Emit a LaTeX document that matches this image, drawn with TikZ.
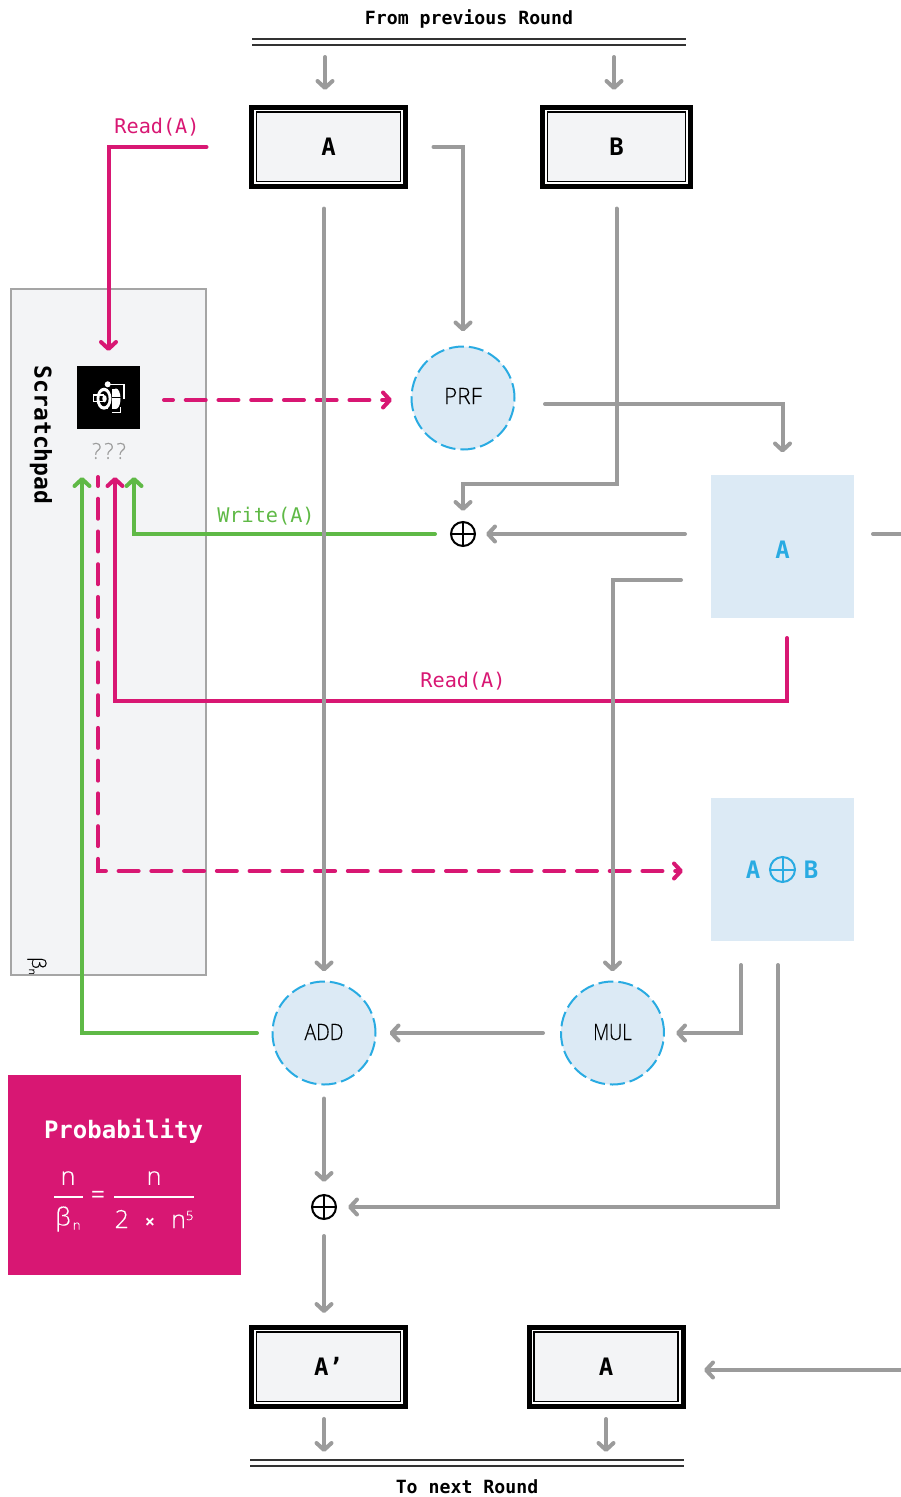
\documentclass[tikz,border=0pt]{standalone}
\usepackage{fontspec}
\usepackage{graphicx}
\setmainfont{Open Sans}
\newfontfamily\monof{DejaVu Sans Mono}
\newfontfamily\slim[FakeBold=0.4]{Open Sans Light}
\usetikzlibrary{arrows.meta,calc}
\definecolor{greyline}{HTML}{9B9B9B}
\definecolor{pinkc}{HTML}{D81773}
\definecolor{greenc}{HTML}{5FB946}
\definecolor{bluec}{HTML}{29ABE2}
\definecolor{lightblue}{HTML}{DCEAF5}
\definecolor{lightgrey}{HTML}{F3F4F6}
\definecolor{bargrey}{HTML}{333333}
\tikzset{
  x=1pt,y=-1pt,
  tipb/.tip={Straight Barb[length=7pt,width=15pt,line width=4pt,round]},
  flow/.style={line width=4pt,line cap=round,line join=miter,-{tipb}},
  greyflow/.style={flow,greyline},
  plainflow/.style={line width=4pt,line cap=round,greyline},
  pinkflow/.style={flow,pinkc},
  pinkdash/.style={flow,pinkc,dash pattern=on 20pt off 12.74pt,dash phase=11pt},
  greenflow/.style={flow,greenc},
  bar/.style={line width=2pt,bargrey},
  regouter/.style={draw=black,line width=5pt,fill=white,inner sep=0pt,outer sep=0pt},
  reginner/.style={draw=black,line width=1.6pt,fill=lightgrey,inner sep=0pt,outer sep=0pt,font=\monof\bfseries\fontsize{24}{24}\selectfont},
  op/.style={circle,draw=bluec,fill=lightblue,line width=2pt,dash pattern=on 15pt off 5pt,minimum size=103pt,inner sep=0pt,outer sep=0pt,text=black,font=\slim\fontsize{22.5}{22}\selectfont},
  bluebox/.style={fill=lightblue,minimum size=143pt,inner sep=0pt,outer sep=0pt},
  bluetext/.style={text=bluec,inner sep=0pt,font=\monof\bfseries\fontsize{24}{24}\selectfont},
  xorsym/.style={circle,draw=#1,line width=2pt,inner sep=0pt,outer sep=0pt,
     path picture={\draw[#1,line width=2pt] (path picture bounding box.north)--(path picture bounding box.south) (path picture bounding box.west)--(path picture bounding box.east);}},
  monolabel/.style={font=\monof\fontsize{20.2}{20}\selectfont,inner sep=0pt},
  headlabel/.style={font=\monof\bfseries\fontsize{18.2}{18}\selectfont,inner sep=0pt},
  formula/.style={text=white,inner sep=0pt,font=\slim\fontsize{25}{25}\selectfont},
  fracline/.style={white,line width=1.8pt},
}
\begin{document}
\begin{tikzpicture}
\useasboundingbox (0,0) rectangle (901,1497);

% Scratchpad
\node[draw=greyline!90,line width=2pt,fill=lightgrey,minimum width=195pt,minimum height=686pt,inner sep=0pt,outer sep=0pt] (pad) at (108.5,632) {};
\node[rotate=-90,font=\monof\bfseries\fontsize{23}{23}\selectfont,inner sep=0pt] (padtitle) at (41,435) {Scratchpad};
\node[rotate=-90,font=\slim\fontsize{19}{19}\selectfont,inner sep=0pt] (padsize) at (37,966) {β\raisebox{-3pt}{\fontsize{10}{10}\selectfont n}};

% Bars and headings
\node[headlabel] (fromprev) at (469,18.5) {From previous Round};
\coordinate (barTL) at (252,39); \coordinate (barTR) at (686,39);
\coordinate (barTLb) at (252,45); \coordinate (barTRb) at (686,45);
\draw[bar] (barTL)--(barTR);
\draw[bar] (barTLb)--(barTRb);
\node[headlabel] (tonext) at (467,1486.5) {To next Round};
\coordinate (barBL) at (250,1460); \coordinate (barBR) at (684,1460);
\coordinate (barBLb) at (250,1466); \coordinate (barBRb) at (684,1466);
\draw[bar] (barBL)--(barBR);
\draw[bar] (barBLb)--(barBRb);

% Registers
\node[regouter,minimum width=154pt,minimum height=79.5pt] (boxA) at (328.5,146.8) {};
\node[reginner,minimum width=144pt,minimum height=69.5pt] (boxAi) at (328.5,146.8) {A};
\node[regouter,minimum width=148pt,minimum height=79.5pt] (boxB) at (616.5,146.8) {};
\node[reginner,minimum width=138pt,minimum height=69.5pt] (boxBi) at (616.5,146.8) {B};
\node[regouter,minimum width=154pt,minimum height=79.5pt] (boxAp) at (328.5,1366.8) {};
\node[reginner,minimum width=144pt,minimum height=69.5pt] (boxApi) at (328.5,1366.8) {A’};
\node[regouter,minimum width=154pt,minimum height=79.5pt] (boxAq) at (606,1366.8) {};
\node[reginner,minimum width=144pt,minimum height=69.5pt] (boxAqi) at (606,1366.8) {A};

% Operations
\node[op] (prf) at (463,398) {\raisebox{-6pt}[0pt][0pt]{PRF}};
\node[op] (add) at (324,1033) {\raisebox{-7pt}[0pt][0pt]{\scalebox{.86}[1]{ADD}}};
\node[op] (mul) at (612.5,1033) {\raisebox{-7pt}[0pt][0pt]{\scalebox{.82}[1]{MUL}}};
\node[xorsym=black,minimum size=24pt] (xorone) at (463,534) {};
\node[xorsym=black,minimum size=24pt] (xortwo) at (324,1207) {};

% Blue state boxes
\node[bluebox] (blueA) at (782.5,546) {};
\node[bluetext] (blueAlabel) at (782.5,550) {A};
\node[bluebox] (blueAB) at (782.5,869.5) {};
\node[xorsym=bluec,minimum size=25pt] (bluexor) at (782.5,869.5) {};
\node[bluetext] (blueAtxt) at (753,870) {A};
\node[bluetext] (blueBtxt) at (811,870) {B};

% Free ends
\coordinate (inA) at (325,57);  \coordinate (inAe) at (325,90);
\coordinate (inB) at (614,57);  \coordinate (inBe) at (614,90);
\coordinate (outA) at (324,1419); \coordinate (outAe) at (324,1452);
\coordinate (outB) at (606,1419); \coordinate (outBe) at (606,1452);
\coordinate (prfOut) at (545,404);
\coordinate (bToXor) at (617,484);
\coordinate (edgeR) at (903,534);
\coordinate (blueR) at (873,534);
\coordinate (blueMul) at (681,580);
\coordinate (abMul) at (741,965);
\coordinate (abXor) at (778,965);
\coordinate (edgeRb) at (903,1370);

% Scratch-pad ports
\node[fill=black,minimum size=63pt,inner sep=0pt,outer sep=0pt] (sbox) at (108.5,397.5) {};
\node[text=greyline,font=\slim\fontsize{22}{22}\selectfont,inner sep=0pt] (qm) at (109,451) {?\hspace{3pt}?\hspace{3pt}?};
\coordinate (portGa) at (82,477);
\coordinate (portD) at (98,477);
\coordinate (portP) at (115,477);
\coordinate (portGb) at (134,477);
\coordinate (readStart) at (206.5,147);
\coordinate (dashStart) at (164,400);
\coordinate (blueRead) at (787,638);
\coordinate (addOut) at (257,1033);
\coordinate (xorOut) at (435,534);
\coordinate (dashTurn) at (98,871);
\coordinate (dashEnd) at (683,871);
\coordinate (prfIn) at (392,400);

% Icon
\begin{scope}[white,line width=1.6pt]
  \fill (107.7,384.3) circle (3);
  \draw (110,384.3) -- (124,384.3) -- (124,399);
  \draw (112,412.3) -- (120.5,412.3) -- (120.5,407);
  \fill (104,388.5) rectangle (116,409);
  \fill (116,398.7) ellipse (4.5 and 10.2);
  \fill[black] (108,387.5) rectangle (111.5,410);
  \fill (104,398.7) ellipse (7.5 and 11);
  \fill[black] (104,398.7) ellipse (4.6 and 7.6);
  \fill[white] (104.5,398.7) ellipse (2.2 and 3.6);
  \fill[black] (112,396.6) rectangle (121,398.4);
  \draw[line width=1.5pt] (104,395.2) -- (93.3,395.2) -- (93.3,401.3) -- (104,401.3);
\end{scope}

% Coloured connectors (the grey ones run over them)
\draw[pinkflow,shorten >=15pt] (readStart) -| (sbox.north);
\draw[pinkdash] (dashStart)--(prfIn);
\draw[pinkflow] (blueRead) |- (portP |- 0,701) -- (portP);
\draw[pinkdash] (portD)--(dashTurn)--(dashEnd);
\draw[greenflow] (xorOut) -| (portGb);
\draw[greenflow] (addOut) -| (portGa);

% Grey connectors
\draw[greyflow] (inA)--(inAe);
\draw[greyflow] (inB)--(inBe);
\draw[greyflow,shorten <=28pt,shorten >=15pt] (boxA.east) -| (prf.north);
\draw[greyflow,shorten <=22pt,shorten >=11pt] (boxB.south) |- (bToXor -| xorone.north) -- (xorone.north);
\draw[greyflow,shorten <=22pt,shorten >=10pt] (add.north |- boxA.south) -- (add.north);
\draw[greyflow,shorten >=22pt] (prfOut) -| (blueA.north);
\draw[plainflow] (blueR)--(edgeR);
\draw[greyflow,shorten <=26pt,shorten >=11pt] (blueA.west |- xorone.east) -- (xorone.east);
\draw[greyflow,shorten >=10pt] (blueMul) -| (mul.north);
\draw[greyflow,shorten >=12pt] (abMul) |- (mul.east);
\draw[greyflow,shorten >=12pt] (abXor) |- (xortwo.east);
\draw[greyflow,shorten <=18pt,shorten >=14pt] (mul.west)--(add.east);
\draw[greyflow,shorten <=14pt,shorten >=13pt] (add.south)--(xortwo.north);
\draw[greyflow,shorten <=17pt,shorten >=14pt] (xortwo.south)--(xortwo.south |- boxAp.north);
\draw[greyflow,shorten >=21pt] (edgeRb)--(boxAq.east |- edgeRb);
\draw[greyflow] (outA)--(outAe);
\draw[greyflow] (outB)--(outBe);

\node[monolabel,text=pinkc] (rdtop) at (157,127) {Read(A)};
\node[monolabel,text=greenc] (wr) at (266,516) {Write(A)};
\node[monolabel,text=pinkc] (rdmid) at (463,681) {Read(A)};

% Probability panel
\node[fill=pinkc,minimum width=233pt,minimum height=200pt,inner sep=0pt,outer sep=0pt] (prob) at (124.5,1175) {};
\node[text=white,font=\monof\bfseries\fontsize{24}{24}\selectfont,inner sep=0pt] (probt) at (123.5,1131) {Probability};
\node[formula] (numa) at (68,1178) {n};
\coordinate (fracaL) at (54,1197); \coordinate (fracaR) at (83,1197);
\draw[fracline] (fracaL)--(fracaR);
\node[formula] (beta) at (68,1219) {β\raisebox{-4pt}{\fontsize{13}{13}\selectfont\,n}};
\node[formula,font=\fontsize{25}{25}\selectfont] (eq) at (98,1197) {=};
\node[formula] (numb) at (154,1178) {n};
\coordinate (fracbL) at (114,1197); \coordinate (fracbR) at (194,1197);
\draw[fracline] (fracbL)--(fracbR);
\node[formula] (den) at (154,1219) {2\hspace{16pt}{\fontsize{18}{18}\selectfont\rmfamily\bfseries ×}\hspace{16pt}n\raisebox{8pt}{\fontsize{13}{13}\selectfont 5}};
\end{tikzpicture}
\end{document}
